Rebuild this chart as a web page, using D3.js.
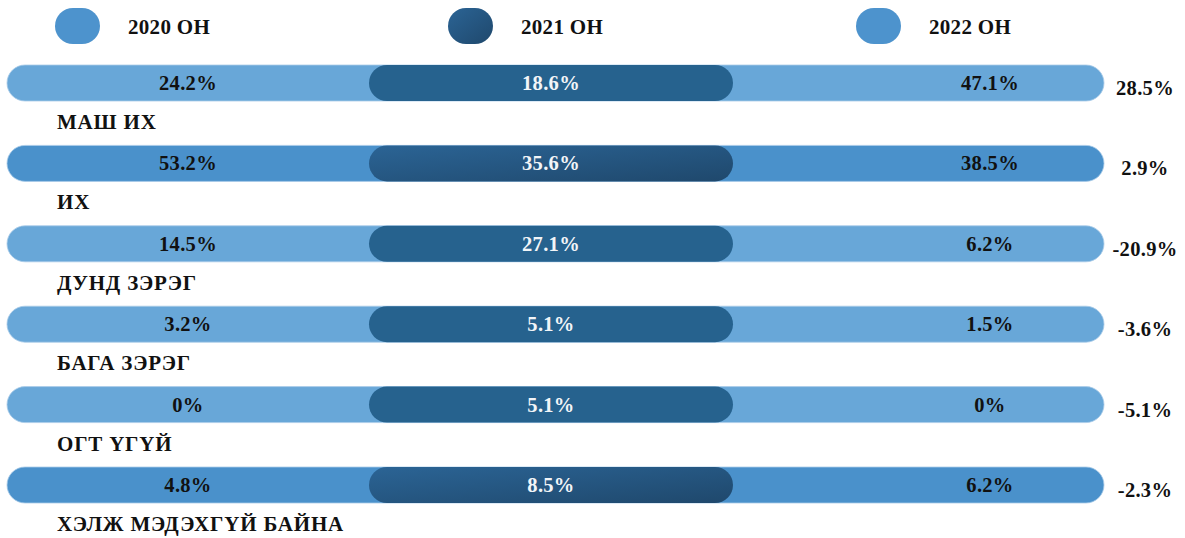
<!DOCTYPE html>
<html>
<head>
<meta charset="utf-8">
<script src="https://cdn.jsdelivr.net/npm/d3@7"></script>
<style>
  body { margin: 0; background: #fff; }
  svg text { font-family: "Liberation Serif", "DejaVu Serif", serif; font-weight: bold; }
</style>
</head>
<body>
<div id="chart"></div>
<script>
var categories = ["МАШ ИХ", "ИХ", "ДУНД ЗЭРЭГ", "БАГА ЗЭРЭГ", "ОГТ ҮГҮЙ", "ХЭЛЖ МЭДЭХГҮЙ БАЙНА"];
var years = ["2020 ОН", "2021 ОН", "2022 ОН"];
var values2020 = [24.2, 53.2, 14.5, 3.2, 0, 4.8];
var values2021 = [18.6, 35.6, 27.1, 5.1, 5.1, 8.5];
var values2022 = [47.1, 38.5, 6.2, 1.5, 0, 6.2];
var change = [28.5, 2.9, -20.9, -3.6, -5.1, -2.3];
var emphasized = ["ИХ", "ХЭЛЖ МЭДЭХГҮЙ БАЙНА"];

var WIDTH = 1185, HEIGHT = 538;
var BARHEIGHT = 36;

var svg = d3.select("#chart").append("svg")
    .attr("width", WIDTH)
    .attr("height", HEIGHT);

var defs = svg.append("defs");
var grad = defs.append("linearGradient")
    .attr("id", "darkgrad")
    .attr("x1", "0%").attr("y1", "0%")
    .attr("x2", "100%").attr("y2", "100%");
grad.append("stop").attr("offset", "0%").attr("stop-color", "#2b6495");
grad.append("stop").attr("offset", "100%").attr("stop-color", "#1f486c");

// rows
var y = d3.scalePoint().domain(categories).range([65, 467]);
// column centres for the three year labels
var x = d3.scaleOrdinal().domain(years).range([188, 551, 990]);
var fmt = function(v){ return v + "%"; };

// legend
var legendX = d3.scaleOrdinal().domain(years).range([55, 448, 856]);
var legendFill = d3.scaleOrdinal().domain(years).range(["#4d93cd", "url(#darkgrad)", "#4d93cd"]);

var legend = svg.append("g").attr("class", "legend");
legend.selectAll("rect")
    .data(years)
    .enter().append("rect")
    .attr("x", function(d){ return legendX(d); })
    .attr("y", 8)
    .attr("width", 45)
    .attr("height", 36)
    .attr("rx", 18)
    .attr("fill", function(d){ return legendFill(d); });
legend.selectAll("text")
    .data(years)
    .enter().append("text")
    .attr("x", function(d){ return legendX(d) + 73; })
    .attr("y", 34)
    .attr("font-size", "21px")
    .attr("letter-spacing", "0.3px")
    .attr("fill", "#111")
    .text(function(d){ return d; });

var rows = svg.selectAll("g.row")
    .data(categories)
    .enter().append("g")
    .attr("class", "row")
    .attr("transform", function(d){ return "translate(0," + y(d) + ")"; });

rows.append("rect")
    .attr("x", 7)
    .attr("width", 1104 - 7)
    .attr("height", BARHEIGHT)
    .attr("rx", BARHEIGHT / 2)
    .attr("fill", function(d){ return emphasized.indexOf(d) >= 0 ? "#4a91cb" : "#68a7d8"; })
    .attr("stroke", "#a9cbe8")
    .attr("stroke-width", 0.8);

rows.append("rect")
    .attr("x", 369)
    .attr("width", 733 - 369)
    .attr("height", BARHEIGHT)
    .attr("rx", BARHEIGHT / 2)
    .attr("fill", function(d){ return emphasized.indexOf(d) >= 0 ? "url(#darkgrad)" : "#26628e"; });

var series = [values2020, values2021, values2022];
years.forEach(function(yr, j){
    rows.append("text")
        .attr("x", x(yr))
        .attr("y", 25)
        .attr("text-anchor", "middle")
        .attr("font-size", "20.5px")
        .attr("letter-spacing", "0.3px")
        .attr("fill", j === 1 ? "#f2f5f8" : "#111")
        .text(function(d, i){ return fmt(series[j][i]); });
});

rows.append("text")
    .attr("x", 1145)
    .attr("y", 30)
    .attr("text-anchor", "middle")
    .attr("font-size", "20.5px")
    .attr("letter-spacing", "0.3px")
    .attr("fill", "#111")
    .text(function(d, i){ return fmt(change[i]); });

rows.append("text")
    .attr("class", "rowlabel")
    .attr("x", 57)
    .attr("y", 64)
    .attr("font-size", "21px")
    .attr("letter-spacing", "0.8px")
    .attr("fill", "#111")
    .text(function(d){ return d; });
</script>
</body>
</html>
